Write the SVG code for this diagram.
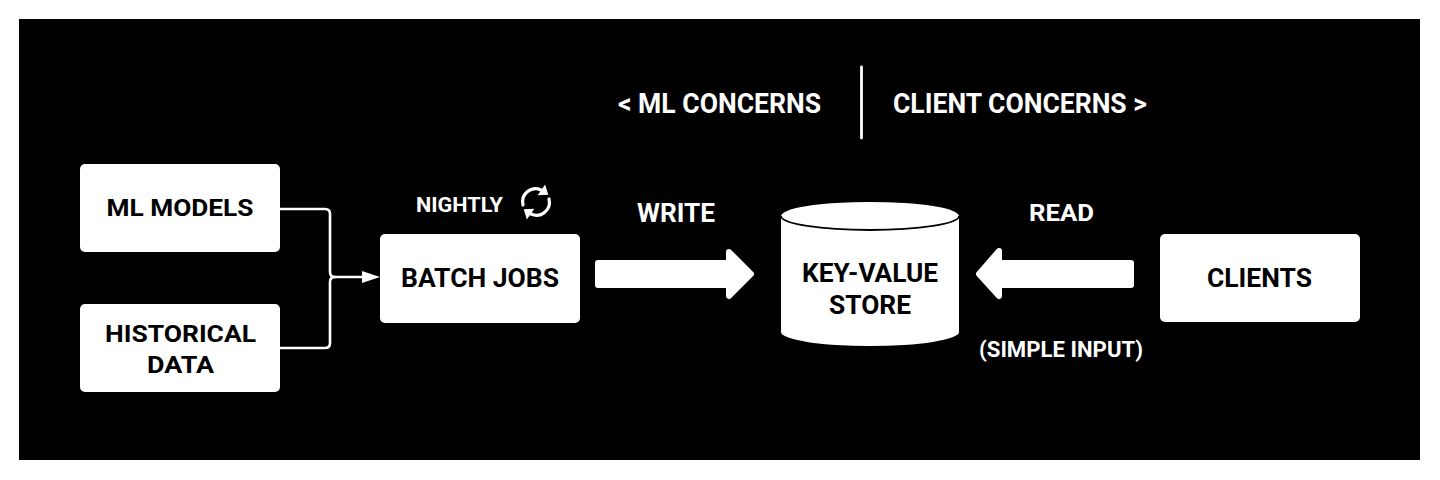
<svg xmlns="http://www.w3.org/2000/svg" width="1440" height="480" viewBox="0 0 1440 480">
<style>
.t{font-family:Roboto,"Liberation Sans",sans-serif;font-weight:bold;text-anchor:middle}
.w{fill:#fff}
.k{fill:#000}
.box{fill:#fff}
.line{fill:none;stroke:#fff;stroke-width:2.6;stroke-linejoin:round;stroke-linecap:round}
.bigarrow{fill:#fff;stroke:#fff;stroke-width:6;stroke-linejoin:round}
</style>
<rect x="0" y="0" width="1440" height="480" fill="#fff"/>
<rect x="19" y="19" width="1401" height="441" fill="#000"/>

<g id="concerns">
<text class="t w" x="719.5" y="113" font-size="27" textLength="203" lengthAdjust="spacingAndGlyphs">&lt; ML CONCERNS</text>
<line x1="861.5" y1="67" x2="861.5" y2="138" stroke="#fff" stroke-width="2.8" stroke-linecap="round"/>
<text class="t w" x="1020" y="113" font-size="27" textLength="254" lengthAdjust="spacingAndGlyphs">CLIENT CONCERNS &gt;</text>
</g>

<g id="ml-models">
<rect class="box" x="80" y="164" width="200" height="88" rx="5"/>
<text class="t k" x="180" y="216" font-size="24" textLength="147" lengthAdjust="spacingAndGlyphs">ML MODELS</text>
</g>

<g id="historical-data">
<rect class="box" x="80" y="304" width="200" height="88" rx="5"/>
<text class="t k" x="180.5" y="341.5" font-size="24" textLength="151" lengthAdjust="spacingAndGlyphs">HISTORICAL</text>
<text class="t k" x="180.5" y="372.5" font-size="24" textLength="67" lengthAdjust="spacingAndGlyphs">DATA</text>
</g>

<g id="batch-jobs">
<rect class="box" x="380" y="234" width="200" height="89" rx="5"/>
<text class="t k" x="480" y="287" font-size="25" textLength="158" lengthAdjust="spacingAndGlyphs">BATCH JOBS</text>
</g>

<g id="nightly">
<text class="t w" x="459.5" y="212" font-size="21" textLength="87" lengthAdjust="spacingAndGlyphs">NIGHTLY</text>
<g fill="none" stroke="#fff" stroke-width="3.2" stroke-linecap="round">
<path d="M523,205 A13,13 0 0 1 541,190"/>
<path d="M549,199 A13,13 0 0 1 531,214"/>
</g>
<polygon points="-2,-6.5 -2,6.5 6.5,0" fill="#fff" transform="translate(543,191) rotate(35)"/>
<polygon points="-2,-6.5 -2,6.5 6.5,0" fill="#fff" transform="translate(529,213) rotate(215)"/>
</g>

<g id="key-value-store">
<path d="M781,216 V332 A89,14 0 0 0 959,332 V216 A89,14 0 0 0 781,216 Z" fill="#fff"/>
<path d="M781,216 A89,14 0 0 0 959,216" fill="none" stroke="#000" stroke-width="1.8"/>
<text class="t k" x="870" y="282" font-size="25" textLength="136" lengthAdjust="spacingAndGlyphs">KEY-VALUE</text>
<text class="t k" x="870" y="314" font-size="25" textLength="82" lengthAdjust="spacingAndGlyphs">STORE</text>
</g>

<g id="clients">
<rect class="box" x="1160" y="234" width="200" height="88" rx="5"/>
<text class="t k" x="1259.5" y="287" font-size="25" textLength="105" lengthAdjust="spacingAndGlyphs">CLIENTS</text>
</g>

<g id="connectors">
<path class="line" d="M280,209 H325 Q330,209 330,214 V272 Q330,277 335,277 H364"/>
<path class="line" d="M280,348 H325 Q330,348 330,343 V282 Q330,277 335,277"/>
<polygon points="362,271 380,277 362,283" fill="#fff"/>
<path class="bigarrow" d="M598,263 H729 V252 L751,274 L729,296 V285 H598 Z"/>
<text class="t w" x="676" y="222" font-size="25" textLength="78" lengthAdjust="spacingAndGlyphs">WRITE</text>
<path class="bigarrow" d="M1131,263 H999 V251 L979,274 L999,296 V285 H1131 Z"/>
<text class="t w" x="1061.5" y="221" font-size="23" textLength="65" lengthAdjust="spacingAndGlyphs">READ</text>
<text class="t w" x="1061" y="357" font-size="22" textLength="164" lengthAdjust="spacingAndGlyphs">(SIMPLE INPUT)</text>
</g>
</svg>
